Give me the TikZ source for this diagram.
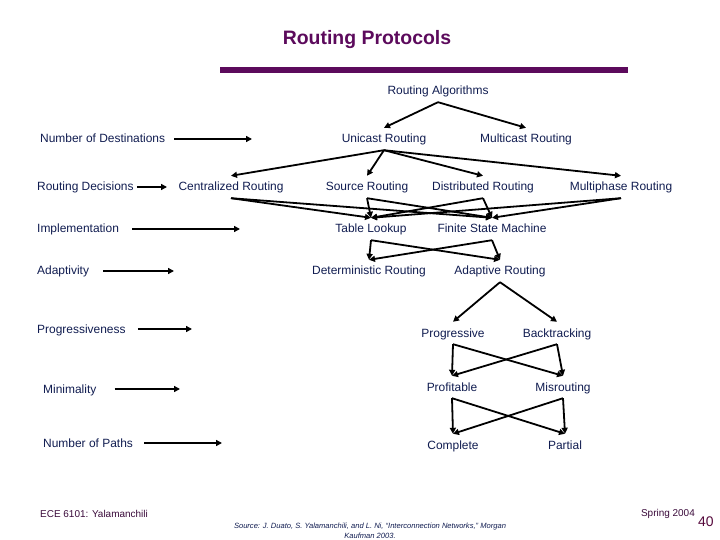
\documentclass[tikz,border=0pt]{standalone}
\usepackage{fontspec}
\setmainfont{Liberation Sans}
\usetikzlibrary{arrows.meta}
\definecolor{titlepurple}{HTML}{5C0A5C}
\definecolor{navytext}{HTML}{101C50}
\definecolor{foottext}{HTML}{3A0A3A}
\tikzset{
  lbl/.style={font=\fontsize{12}{14}\selectfont, text=navytext, inner sep=0pt,
    minimum height=22bp, text height=10bp, text depth=2bp},
  arr/.style={draw=black, line width=1.8bp, -{Triangle[length=6bp,width=6bp]}}
}
\begin{document}
\begin{tikzpicture}[x=1bp,y=-1bp]

  % --- styles ---
  \tikzset{
    sidearr/.style={arr, shorten <=9bp},
    footlbl/.style={font=\fontsize{10}{12}\selectfont, text=foottext, inner sep=0pt},
  }

  % --- page & title ---
  \useasboundingbox (0,0) rectangle (720,540);
  \node[font=\fontsize{19.5}{22}\selectfont\bfseries, text=titlepurple] (title) at (367,40) {Routing Protocols};
  \fill[titlepurple] (220,67) rectangle (628,73);

  % =========================
  %  CLASSIFICATION TREE
  % =========================

  \node[lbl] (ralg)     at (438,91)  {Routing Algorithms};
  \node[lbl] (ucast)    at (384,139) {Unicast Routing};
  \node[lbl] (mcast)    at (526,139) {Multicast Routing};
  \node[lbl] (central)  at (231,187) {Centralized Routing};
  \node[lbl] (source)   at (367,187) {Source Routing};
  \node[lbl] (distrib)  at (483,187) {Distributed Routing};
  \node[lbl] (multi)    at (621,187) {Multiphase Routing};
  \node[lbl] (table)    at (371,229) {Table Lookup};
  \node[lbl] (fsm)      at (492,229) {Finite State Machine};
  \node[lbl] (determ)   at (369,271) {Deterministic Routing};
  \node[lbl] (adapt)    at (500,271) {Adaptive Routing};
  \node[lbl] (progr)    at (453,333) {Progressive};
  \node[lbl] (backtr)   at (557,333) {Backtracking};
  \node[lbl] (profit)   at (452,387) {Profitable};
  \node[lbl] (misr)     at (563,387) {Misrouting};
  \node[lbl] (complete) at (453,445) {Complete};
  \node[lbl] (partial)  at (565,445) {Partial};

  \draw[arr] (ralg.south) -- (ucast.north);
  \draw[arr] (ralg.south) -- (mcast.north);

  \foreach \dst in {central,source,distrib,multi}
    \draw[arr] (ucast.south) -- (\dst.north);

  \foreach \src in {central,source,distrib,multi} {
    \draw[arr] (\src.south) -- (table.north);
    \draw[arr] (\src.south) -- (fsm.north);
  }

  \foreach \src in {table,fsm} {
    \draw[arr] (\src.south) -- (determ.north);
    \draw[arr] (\src.south) -- (adapt.north);
  }

  \draw[arr] (adapt.south) -- (progr.north);
  \draw[arr] (adapt.south) -- (backtr.north);

  \foreach \src in {progr,backtr} {
    \draw[arr] (\src.south) -- (profit.north);
    \draw[arr] (\src.south) -- (misr.north);
  }

  \foreach \src in {profit,misr} {
    \draw[arr] (\src.south) -- (complete.north);
    \draw[arr] (\src.south) -- (partial.north);
  }

  % =========================
  %  CRITERIA ON THE LEFT
  % =========================

  \node[lbl, anchor=west] (ldest)  at (40,139) {Number of Destinations};
  \node[lbl, anchor=west] (ldecis) at (37,187) {Routing Decisions};
  \node[lbl, anchor=west] (limpl)  at (37,229) {Implementation};
  \node[lbl, anchor=west] (ladapt) at (37,271) {Adaptivity};
  \node[lbl, anchor=west] (lprogr) at (37,329) {Progressiveness};
  \node[lbl, anchor=west] (lminim) at (43,389) {Minimality};
  \node[lbl, anchor=west] (lpaths) at (43,443) {Number of Paths};

  \coordinate (ldest-e)  at (252,139);
  \coordinate (ldecis-e) at (167,187);
  \coordinate (limpl-e)  at (240,229);
  \coordinate (ladapt-e) at (174,271);
  \coordinate (lprogr-e) at (192,329);
  \coordinate (lminim-e) at (180,389);
  \coordinate (lpaths-e) at (222,443);

  \draw[sidearr] (ldest)  -- (ldest-e);
  \draw[sidearr, shorten <=3bp] (ldecis) -- (ldecis-e);
  \draw[sidearr, shorten <=13bp] (limpl)  -- (limpl-e);
  \draw[sidearr, shorten <=14bp] (ladapt) -- (ladapt-e);
  \draw[sidearr, shorten <=12bp] (lprogr) -- (lprogr-e);
  \draw[sidearr, shorten <=18bp] (lminim) -- (lminim-e);
  \draw[sidearr, shorten <=11bp] (lpaths) -- (lpaths-e);

  % --- footer ---
  \node[footlbl, anchor=west] (course) at (40,514) {ECE 6101: Yalamanchili};
  \node[footlbl, anchor=east] (term)   at (695,514) {Spring 2004};
  \node[font=\fontsize{14}{16}\selectfont, text=foottext!80!purple, inner sep=0pt, anchor=west] (pageno) at (698,522) {40};
  \node[font=\fontsize{7.6}{10.5}\selectfont\itshape, text=navytext, inner sep=0pt, align=center] (source) at (370,531)
    {Source: J. Duato, S. Yalamanchili, and L. Ni, ``Interconnection Networks,'' Morgan\\ Kaufman 2003.};

\end{tikzpicture}
\end{document}
